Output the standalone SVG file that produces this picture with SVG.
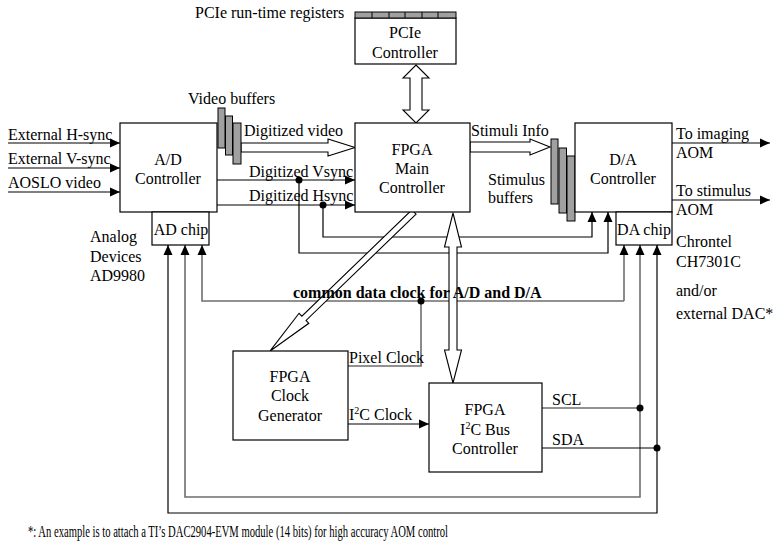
<svg xmlns="http://www.w3.org/2000/svg" width="782" height="550" viewBox="0 0 782 550">
<style>
text{font-family:"Liberation Serif","Times New Roman",serif;font-size:16px;fill:#000}
.bt{font-size:16px;text-anchor:middle}
.box{fill:#fff;stroke:#000;stroke-width:1.2}
.buf{fill:#a0a0a0;stroke:#000;stroke-width:1}
.ln{fill:none;stroke:#000;stroke-width:1.2}
.gl{fill:none;stroke:#6e6e6e;stroke-width:1.6}
.hol{fill:#fff;stroke:#000;stroke-width:1.1}
.dot{fill:#000}
</style>
<defs>
<marker id="ah" markerWidth="10" markerHeight="10" refX="10" refY="5" orient="auto" markerUnits="userSpaceOnUse">
<path d="M0,0.5 L10,5 L0,9.5 Z" fill="#000"/>
</marker>
</defs>
<rect width="782" height="550" fill="#fff"/>

<g id="connectors">
<!-- inputs -->
<line class="ln" x1="8" y1="143" x2="120" y2="143" marker-end="url(#ah)"/>
<line class="ln" x1="8" y1="168" x2="120" y2="168" marker-end="url(#ah)"/>
<line class="ln" x1="8" y1="192" x2="120" y2="192" marker-end="url(#ah)"/>
<!-- sync lines -->
<line class="ln" x1="217" y1="180" x2="355" y2="180" marker-end="url(#ah)"/>
<line class="ln" x1="217" y1="205" x2="355" y2="205" marker-end="url(#ah)"/>
<polyline class="ln" points="323,205 323,237 592,237 592,212" marker-end="url(#ah)"/>
<polyline class="ln" points="299,180 299,253 608,253 608,212" marker-end="url(#ah)"/>
<circle class="dot" cx="299" cy="180" r="3.5"/>
<circle class="dot" cx="323" cy="205" r="3.5"/>
<!-- outputs -->
<line class="ln" x1="672" y1="143" x2="770" y2="143" marker-end="url(#ah)"/>
<line class="ln" x1="672" y1="200" x2="770" y2="200" marker-end="url(#ah)"/>
<!-- common data clock -->
<polyline class="gl" points="624,301 202,301 202,245" marker-end="url(#ah)"/>
<line class="gl" x1="624" y1="301" x2="624" y2="245" marker-end="url(#ah)"/>
<polyline class="gl" points="348,366 421,366 421,301"/>
<circle class="dot" cx="421" cy="301" r="3.5"/>
<!-- I2C clock -->
<line class="ln" x1="348" y1="424" x2="429" y2="424" marker-end="url(#ah)"/>
<!-- SCL loop -->
<line class="gl" x1="542" y1="408" x2="640" y2="408"/>
<polyline class="gl" points="640,408 640,497 185,497 185,245" marker-end="url(#ah)"/>
<line class="gl" x1="640" y1="408" x2="640" y2="245" marker-end="url(#ah)"/>
<circle class="dot" cx="640" cy="408" r="3.5"/>
<!-- SDA loop -->
<line class="ln" x1="542" y1="448" x2="657" y2="448"/>
<polyline class="ln" points="657,448 657,513 168,513 168,245" marker-end="url(#ah)"/>
<line class="ln" x1="657" y1="448" x2="657" y2="245" marker-end="url(#ah)"/>
<circle class="dot" cx="657" cy="448" r="3.5"/>
<!-- hollow arrows -->
<polygon class="hol" points="241,143 328,143 328,139 355,147.5 328,156 328,152 241,152"/>
<polygon class="hol" points="470,142 530,142 530,139 550,147 530,155 530,152 470,152"/>
<!-- PCIe <-> main double arrow -->
<polygon class="hol" points="416,65 429,78 422,78 422,110 429,110 416,123 403,110 410,110 410,78 403,78"/>
<!-- main <-> I2C double arrow -->
<polygon class="hol" points="453,213 461.5,247 457,247 457,350 461.5,350 453,383 444.5,350 449,350 449,247 444.5,247"/>
<!-- diagonal to clock generator -->
<g transform="translate(414,212) rotate(136)">
<polygon class="hol" points="0,-3 153,-3 153,-7 200,0 153,7 153,3 0,3"/>
</g>
</g>

<g id="pcie">
<rect class="box" x="355" y="18" width="101" height="46"/>
<rect class="buf" x="355" y="12" width="101" height="6"/>
<path d="M372,12v6M389,12v6M405,12v6M422,12v6M438,12v6" stroke="#000" stroke-width="1"/>
<text class="bt" x="405" y="38">PCIe</text>
<text class="bt" x="405" y="58">Controller</text>
</g>
<text x="195" y="18">PCIe run-time registers</text>

<g id="ad">
<rect class="box" x="120" y="123" width="97" height="89"/>
<text class="bt" x="168" y="165">A/D</text>
<text class="bt" x="168" y="184">Controller</text>
</g>
<g id="adchip">
<rect class="box" x="152" y="212" width="57" height="33"/>
<text class="bt" x="181" y="235">AD chip</text>
</g>

<g id="videobuf">
<rect class="buf" x="218" y="108" width="7" height="40"/>
<rect class="buf" x="225.5" y="116" width="7" height="39"/>
<rect class="buf" x="233" y="123" width="8" height="41"/>
</g>
<text x="188" y="104">Video buffers</text>

<g id="main">
<rect class="box" x="355" y="123" width="115" height="89"/>
<text class="bt" x="412" y="155">FPGA</text>
<text class="bt" x="412" y="174">Main</text>
<text class="bt" x="412" y="193">Controller</text>
</g>

<g id="stimbuf">
<rect class="buf" x="551" y="139" width="7" height="65"/>
<rect class="buf" x="559" y="148" width="7.5" height="65"/>
<rect class="buf" x="567" y="156" width="8" height="65"/>
</g>

<g id="da">
<rect class="box" x="575" y="123" width="97" height="89"/>
<text class="bt" x="623" y="165">D/A</text>
<text class="bt" x="623" y="184">Controller</text>
</g>
<g id="dachip">
<rect class="box" x="616" y="212" width="56" height="33"/>
<text class="bt" x="644" y="235">DA chip</text>
</g>

<g id="clockgen">
<rect class="box" x="233" y="351" width="115" height="89"/>
<text class="bt" x="290" y="382">FPGA</text>
<text class="bt" x="290" y="401">Clock</text>
<text class="bt" x="290" y="421">Generator</text>
</g>

<g id="i2c">
<rect class="box" x="429" y="383" width="113" height="89"/>
<text class="bt" x="485" y="415">FPGA</text>
<text class="bt" x="485" y="435">I<tspan font-size="10" dy="-6">2</tspan><tspan dy="6">C Bus</tspan></text>
<text class="bt" x="485" y="454">Controller</text>
</g>

<g id="labels">
<text x="8" y="140">External H-sync</text>
<text x="8" y="164">External V-sync</text>
<text x="8" y="188">AOSLO video</text>
<text x="90" y="242">Analog</text>
<text x="90" y="262">Devices</text>
<text x="90" y="281">AD9980</text>
<text x="244" y="136">Digitized video</text>
<text x="249" y="177">Digitized Vsync</text>
<text x="249" y="201">Digitized Hsync</text>
<text x="471" y="136">Stimuli Info</text>
<text x="488" y="185">Stimulus</text>
<text x="488" y="203">buffers</text>
<text x="676" y="139">To imaging</text>
<text x="676" y="158">AOM</text>
<text x="676" y="196">To stimulus</text>
<text x="676" y="215">AOM</text>
<text x="676" y="247">Chrontel</text>
<text x="676" y="267">CH7301C</text>
<text x="676" y="296">and/or</text>
<text x="676" y="319">external DAC*</text>
<text x="293" y="298" font-weight="bold" font-size="16">common data clock for A/D and D/A</text>
<text x="349" y="363">Pixel Clock</text>
<text x="349" y="420">I<tspan font-size="10" dy="-6">2</tspan><tspan dy="6">C Clock</tspan></text>
<text x="552" y="405">SCL</text>
<text x="552" y="445">SDA</text>
<text x="28" y="537" font-size="15" textLength="420" lengthAdjust="spacingAndGlyphs">*: An example is to attach a TI’s DAC2904-EVM module (14 bits) for high accuracy AOM control</text>
</g>
</svg>
